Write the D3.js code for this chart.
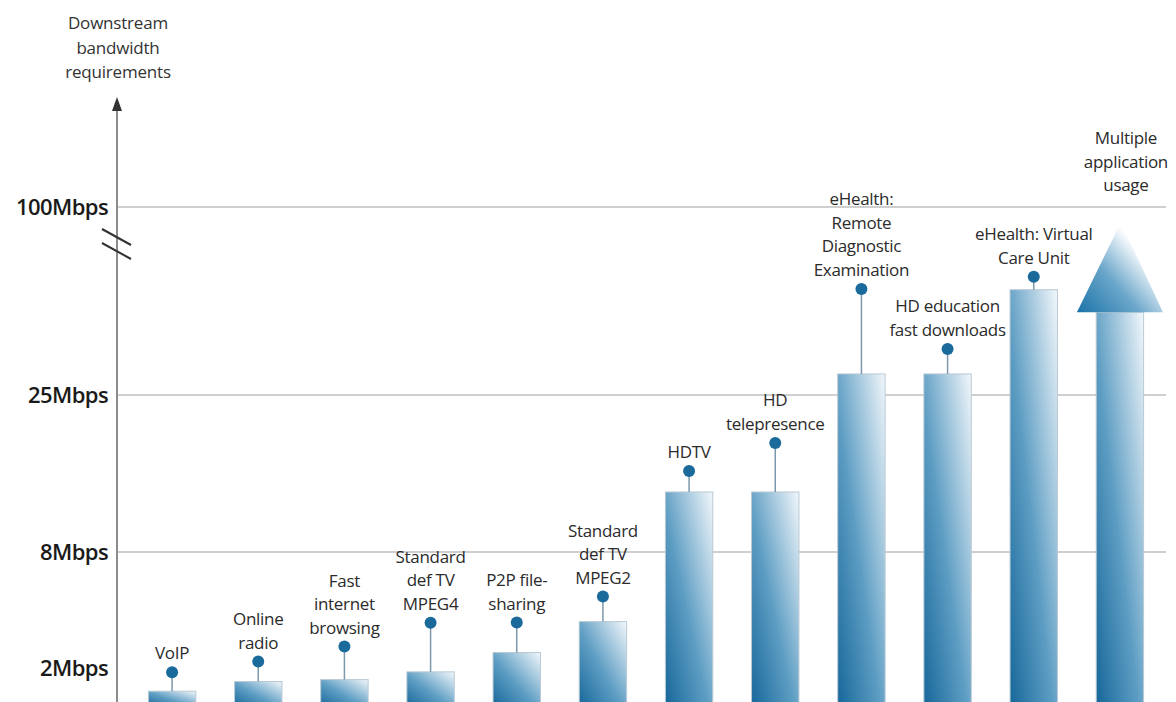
<!DOCTYPE html>
<html>
<head>
<meta charset="utf-8">
<script src="https://cdn.jsdelivr.net/npm/d3@7"></script>
<style>
  html, body { margin: 0; padding: 0; background: #fff; }
  svg { display: block; }
  text { font-family: "Open Sans", "Noto Sans", sans-serif; }
</style>
</head>
<body>
<svg id="chart" width="1176" height="702"></svg>
<script>
// ---- data ----
const categories = [
  "VoIP",
  "Online\nradio",
  "Fast\ninternet\nbrowsing",
  "Standard\ndef TV\nMPEG4",
  "P2P file-\nsharing",
  "Standard\ndef TV\nMPEG2",
  "HDTV",
  "HD\ntelepresence",
  "eHealth:\nRemote\nDiagnostic\nExamination",
  "HD education\nfast downloads",
  "eHealth: Virtual\nCare Unit",
  "Multiple\napplication\nusage"
];
// downstream bandwidth, Mbps
const bandwidth = [0.8, 1.3, 1.4, 1.8, 2.8, 4.4, 14.5, 14.5, 33.4, 33.4, 67, 58];
const tickValues = [2, 8, 25, 100];
const tickLabels = ["2Mbps", "8Mbps", "25Mbps", "100Mbps"];
const gridValues = [8, 25, 100];
const axisTitle = ["Downstream", "bandwidth", "requirements"];

// ---- layout ----
const W = 1176, H = 702;
const axisX = 117;
// pin stem length above each bar (px); the last column carries an arrow instead
const stemLen = [19, 20, 33, 49, 30, 25, 21, 49, 85, 25, 13, null];
const lineH = 23.5;

const svg = d3.select("#chart");

// piecewise scale with a break between 25 and 100 Mbps
const y = d3.scaleLinear()
  .domain([2, 8, 25, 100])
  .range([668, 552, 395, 207]);

const x = d3.scaleBand()
  .domain(d3.range(categories.length))
  .range([129, 1163])
  .paddingInner(0.45)
  .paddingOuter(0.225);

const defs = svg.append("defs");
const barGrad = defs.append("linearGradient")
  .attr("id", "barGrad")
  .attr("x1", 0).attr("y1", 1).attr("x2", 1).attr("y2", 0);
barGrad.append("stop").attr("offset", "0%").attr("stop-color", "#16679a");
barGrad.append("stop").attr("offset", "45%").attr("stop-color", "#5d9dc3");
barGrad.append("stop").attr("offset", "100%").attr("stop-color", "#f2f7fb");

const triGrad = defs.append("linearGradient")
  .attr("id", "triGrad")
  .attr("x1", 0).attr("y1", 1).attr("x2", 1).attr("y2", 0.1);
triGrad.append("stop").attr("offset", "0%").attr("stop-color", "#1a73a8");
triGrad.append("stop").attr("offset", "40%").attr("stop-color", "#6aa6ca");
triGrad.append("stop").attr("offset", "75%").attr("stop-color", "#ffffff");

// gridlines
svg.append("g").selectAll("line")
  .data(gridValues)
  .join("line")
  .attr("x1", axisX).attr("x2", 1166)
  .attr("y1", d => y(d)).attr("y2", d => y(d))
  .attr("stroke", "#cfcfcf")
  .attr("stroke-width", 2);

// y axis line with arrow head
svg.append("line")
  .attr("x1", axisX).attr("x2", axisX)
  .attr("y1", 108).attr("y2", H)
  .attr("stroke", "#8c8c8c")
  .attr("stroke-width", 2);
svg.append("path")
  .attr("d", `M${axisX},97 L${axisX - 5},111 L${axisX + 5},111 Z`)
  .attr("fill", "#333");

// break marks on the axis
[0, 14].forEach(dy => {
  svg.append("line")
    .attr("x1", axisX - 15).attr("y1", 229 + dy)
    .attr("x2", axisX + 14).attr("y2", 245 + dy)
    .attr("stroke", "#333").attr("stroke-width", 2);
});

// axis title
svg.append("text")
  .attr("x", axisX + 1).attr("y", 29)
  .attr("text-anchor", "middle")
  .attr("font-size", 17)
  .attr("letter-spacing", -0.2)
  .attr("fill", "#333")
  .selectAll("tspan")
  .data(axisTitle)
  .join("tspan")
  .attr("x", axisX + 1)
  .attr("dy", (d, i) => i === 0 ? 0 : 24.5)
  .text(d => d);

// tick labels
svg.append("g").selectAll("text")
  .data(tickValues)
  .join("text")
  .attr("x", 108)
  .attr("y", d => y(d))
  .attr("dy", "0.35em")
  .attr("text-anchor", "end")
  .attr("font-size", 22)
  .attr("font-weight", 600)
  .attr("letter-spacing", -0.6)
  .attr("fill", "#1a1a1a")
  .text((d, i) => tickLabels[i]);

// bars
const bars = svg.append("g");
bars.selectAll("rect")
  .data(bandwidth)
  .join("rect")
  .attr("x", (d, i) => x(i))
  .attr("y", d => y(d))
  .attr("width", x.bandwidth())
  .attr("height", d => y(0) - y(d))
  .attr("fill", "url(#barGrad)")
  .attr("stroke", "#b9c9d4")
  .attr("stroke-width", 1);

// pins: stem + dot
const pinIdx = d3.range(categories.length).filter(i => stemLen[i] != null);
const pins = svg.append("g");
pins.selectAll("line")
  .data(pinIdx)
  .join("line")
  .attr("x1", i => x(i) + x.bandwidth() / 2)
  .attr("x2", i => x(i) + x.bandwidth() / 2)
  .attr("y1", i => y(bandwidth[i]))
  .attr("y2", i => y(bandwidth[i]) - stemLen[i])
  .attr("stroke", "#7c98ab")
  .attr("stroke-width", 1.5);
pins.selectAll("circle")
  .data(pinIdx)
  .join("circle")
  .attr("cx", i => x(i) + x.bandwidth() / 2)
  .attr("cy", i => y(bandwidth[i]) - stemLen[i])
  .attr("r", 6)
  .attr("fill", "#1b6a9c");

// growth arrow on the last column
const last = categories.length - 1;
const triTop = y(bandwidth[last]) - 90;
{
  const cx = x(last) + x.bandwidth() / 2;
  const by = y(bandwidth[last]);
  svg.append("path")
    .attr("d", `M${cx - 43},${by} L${cx + 1},${triTop} L${cx + 43},${by} Z`)
    .attr("fill", "url(#triGrad)");
}

// category labels
const labels = svg.append("g")
  .attr("font-size", 17)
  .attr("letter-spacing", -0.3)
  .attr("fill", "#2b2b2b")
  .attr("text-anchor", "middle");
categories.forEach((c, i) => {
  const lines = c.split("\n");
  const cx = x(i) + x.bandwidth() / 2 + (stemLen[i] == null ? 6 : 0);
  const anchorY = stemLen[i] == null ? triTop - 31 : y(bandwidth[i]) - stemLen[i] - 13;
  const t = labels.append("text");
  lines.forEach((l, k) => {
    t.append("tspan")
      .attr("x", cx)
      .attr("y", anchorY - (lines.length - 1 - k) * lineH)
      .text(l);
  });
});
</script>
</body>
</html>
